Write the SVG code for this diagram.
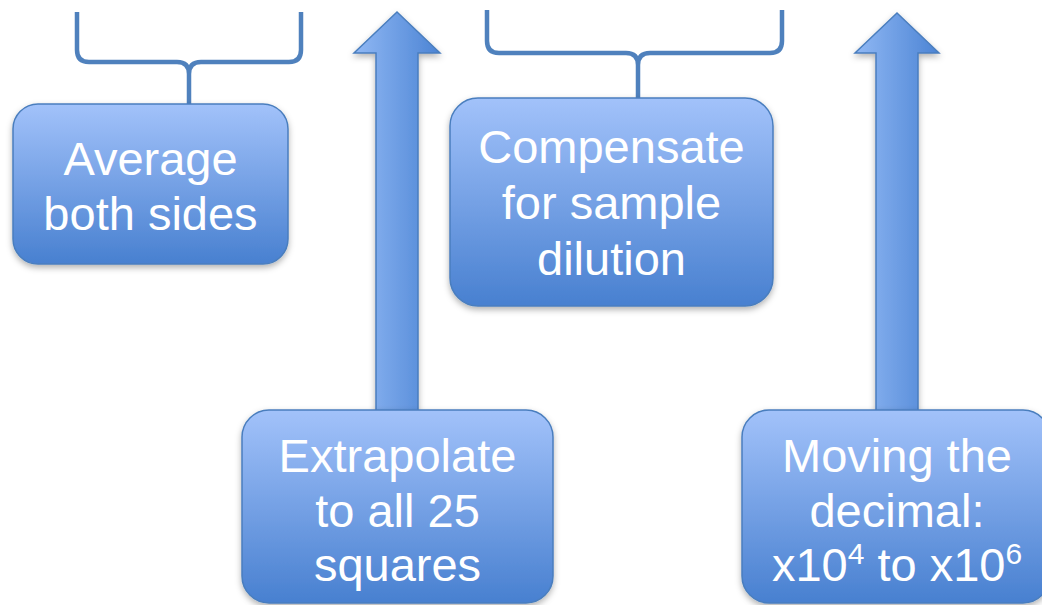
<svg xmlns="http://www.w3.org/2000/svg" width="1042" height="605" viewBox="0 0 1042 605">
<defs>
<linearGradient id="boxGrad" x1="0" y1="0" x2="0" y2="1">
<stop offset="0" stop-color="#a2c2fa"/>
<stop offset="1" stop-color="#4880d0"/>
</linearGradient>
<linearGradient id="arrowGrad" x1="0" y1="0" x2="1" y2="0">
<stop offset="0" stop-color="#90b8f4"/>
<stop offset="1" stop-color="#4c84d4"/>
</linearGradient>
<filter id="shadow" x="-10%" y="-10%" width="120%" height="125%">
<feDropShadow dx="0" dy="3" stdDeviation="3" flood-color="#000" flood-opacity="0.3"/>
</filter>
</defs>
<style>
.box{fill:url(#boxGrad);stroke:#4a7ebe;stroke-width:1.5;filter:url(#shadow)}
.arrow{fill:url(#arrowGrad);stroke:#4a7ebe;stroke-width:1.5;filter:url(#shadow)}
.brace{fill:none;stroke:#4f81bd;stroke-width:4.5;stroke-linejoin:round}
.lbl{font-family:"Liberation Sans",Arial,sans-serif;font-size:47px;fill:#ffffff;text-anchor:middle}
</style>
<g id="connectors">
<path class="brace" d="M77,12 V50 Q77,62 89,62 H177 Q189,62 189,74 V104 M301,12 V50 Q301,62 289,62 H201 Q189,62 189,74"/>
<path class="brace" d="M487,10 V41 Q487,53 499,53 H626 Q638,53 638,65 V98 M782,10 V41 Q782,53 770,53 H650 Q638,53 638,65"/>
<polygon class="arrow" points="397,12 440,53 418,53 418,414 376,414 376,53 354,53"/>
<polygon class="arrow" points="897,13 939,53 918,53 918,414 876,414 876,53 855,53"/>
</g>
<g id="node-average">
<rect class="box" x="13" y="104" width="275" height="160" rx="25" ry="25"/>
<text class="lbl" x="150.5" y="175">Average</text>
<text class="lbl" x="150.5" y="230">both sides</text>
</g>
<g id="node-compensate">
<rect class="box" x="450" y="98" width="323" height="208" rx="28" ry="28"/>
<text class="lbl" x="611.5" y="163">Compensate</text>
<text class="lbl" x="611.5" y="219">for sample</text>
<text class="lbl" x="611.5" y="275">dilution</text>
</g>
<g id="node-extrapolate">
<rect class="box" x="242" y="410" width="311" height="193" rx="27" ry="27"/>
<text class="lbl" x="397.5" y="472">Extrapolate</text>
<text class="lbl" x="397.5" y="527">to all 25</text>
<text class="lbl" x="397.5" y="581">squares</text>
</g>
<g id="node-moving">
<rect class="box" x="742" y="410" width="308" height="193" rx="27" ry="27"/>
<text class="lbl" x="897" y="472">Moving the</text>
<text class="lbl" x="897" y="527">decimal:</text>
<text class="lbl" x="897" y="581">x10<tspan font-size="30" dy="-17">4</tspan><tspan dy="17"> to x10</tspan><tspan font-size="30" dy="-17">6</tspan></text>
</g>
</svg>
